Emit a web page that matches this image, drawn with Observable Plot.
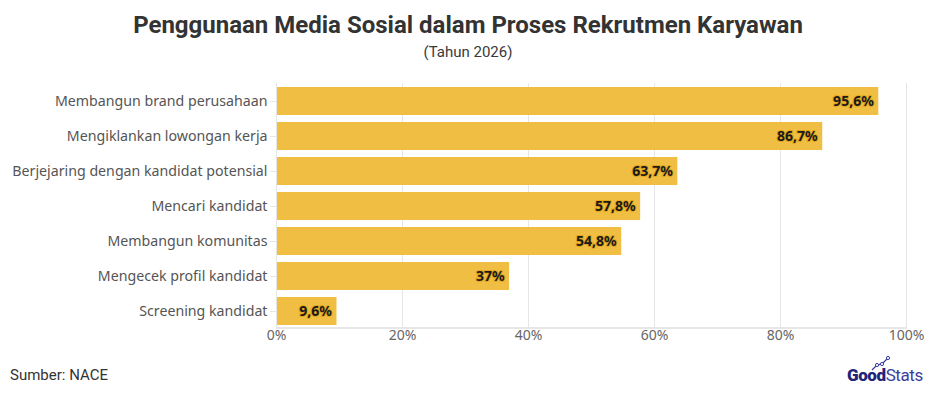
<!DOCTYPE html>
<html>
<head>
<meta charset="utf-8">
<script src="https://cdn.jsdelivr.net/npm/d3@7"></script>
<script src="https://cdn.jsdelivr.net/npm/@observablehq/plot@0.6"></script>
<style>
  body { margin: 0; width: 936px; height: 396px; background: #fff; font-family: "Noto Sans", sans-serif; position: relative; overflow: hidden; }
  #title { position: absolute; top: 11px; left: 0; width: 936px; text-align: center; font-family: Roboto, sans-serif; font-weight: 700; font-size: 24px; color: #333; }
  #subtitle { position: absolute; top: 43px; left: 0; width: 936px; text-align: center; font-family: Roboto, sans-serif; font-size: 15px; color: #3a3a3a; }
  #chart { position: absolute; top: 72px; left: 0; }
  #source { position: absolute; top: 366px; left: 10px; font-family: Roboto, sans-serif; font-size: 15px; color: #333; }
  #logo { position: absolute; top: 365px; left: 847px; font-family: Roboto, sans-serif; font-size: 17px; color: #3a3d9c; letter-spacing: -0.4px; }
  #logo b { font-weight: 900; color: #1f237a; }
  #logo svg { position: absolute; left: 0; top: -9px; }
</style>
</head>
<body>
<div id="title">Penggunaan Media Sosial dalam Proses Rekrutmen Karyawan</div>
<div id="subtitle">(Tahun 2026)</div>
<div id="chart"></div>
<div id="source">Sumber: NACE</div>
<div id="logo"><svg width="50" height="16"><polyline points="25,14 30,9 35,8 41,2" fill="none" stroke="#3a3d9c" stroke-width="1.3"/><circle cx="30" cy="9" r="1.6" fill="#fff" stroke="#3a3d9c" stroke-width="1"/><circle cx="35" cy="8" r="1.6" fill="#fff" stroke="#3a3d9c" stroke-width="1"/><circle cx="41" cy="2" r="1.6" fill="#fff" stroke="#3a3d9c" stroke-width="1"/></svg><b>Good</b>Stats</div>
<script>
const categories = [
  "Membangun brand perusahaan",
  "Mengiklankan lowongan kerja",
  "Berjejaring dengan kandidat potensial",
  "Mencari kandidat",
  "Membangun komunitas",
  "Mengecek profil kandidat",
  "Screening kandidat"
];
const values = [95.6, 86.7, 63.7, 57.8, 54.8, 37, 9.6];
const xTicks = [0, 20, 40, 60, 80, 100];

const data = categories.map((c, i) => ({category: c, value: values[i]}));
const fmt = v => String(v).replace(".", ",") + "%";

const chart = Plot.plot({
  width: 936,
  height: 280,
  marginTop: 11.1,
  marginBottom: 23.2,
  marginLeft: 276,
  marginRight: 30,
  style: { fontFamily: "Noto Sans, sans-serif", fontSize: "14px", color: "#555" },
  x: { domain: [0, 100], ticks: xTicks, tickFormat: d => d + "%", label: null, grid: false },
  y: { domain: categories, label: null, paddingInner: 0.2, paddingOuter: 0.1 },
  marks: [
    Plot.gridX(xTicks, { stroke: "#e6e6e6", strokeOpacity: 1, strokeWidth: 1 }),
    Plot.barX(data, { y: "category", x: "value", fill: "#F0BE42" }),
    Plot.axisX({ ticks: xTicks, tickFormat: d => d + "%", tickSize: 0, tickPadding: 1, fontSize: 14, fill: "#666", label: null }),
    Plot.axisY({ tickSize: 6, tickPadding: 3, stroke: "#e6e6e6", fontSize: 14.2, fill: "#555", label: null }),
    Plot.ruleX([0], { stroke: "#e6e6e6" }),
    Plot.text(data, {
      y: "category", x: "value", text: d => fmt(d.value),
      textAnchor: "end", dx: -5, fill: "#1a1a1a", stroke: "#E3A81A", strokeWidth: 2,
      fontWeight: 700, fontSize: 14
    })
  ]
});
d3.select(chart).append("line")
  .attr("x1", 276).attr("x2", 906).attr("y1", 255.9).attr("y2", 255.9)
  .attr("stroke", "#e6e6e6").attr("stroke-width", 2);
document.getElementById("chart").appendChild(chart);
</script>
</body>
</html>
